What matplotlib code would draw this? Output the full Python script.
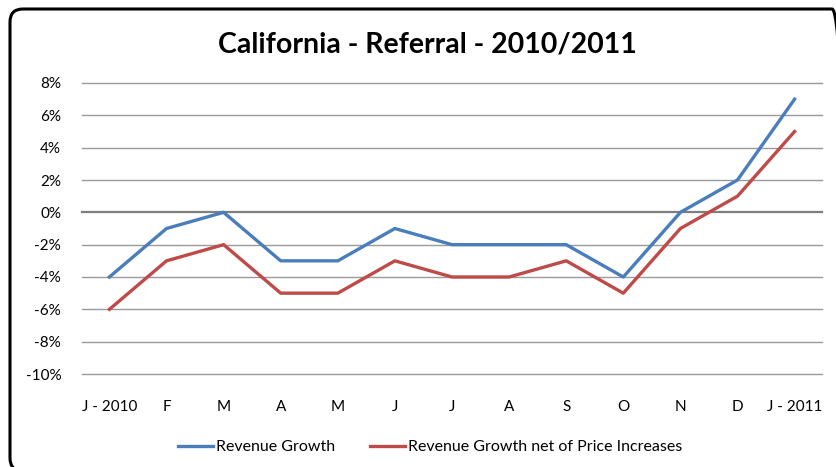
import matplotlib
matplotlib.use("Agg")
import matplotlib.pyplot as plt
from matplotlib.patches import FancyBboxPatch
from matplotlib.transforms import IdentityTransform
from matplotlib.ticker import FuncFormatter

plt.rcParams['font.family'] = ['Lato', 'DejaVu Sans']

months = ["J - 2010", "F", "M", "A", "M", "J", "J", "A", "S", "O", "N", "D", "J - 2011"]
revenue_growth = [-4, -1, 0, -3, -3, -1, -2, -2, -2, -4, 0, 2, 7]
revenue_net = [-6, -3, -2, -5, -5, -3, -4, -4, -3, -5, -1, 1, 5]
y_ticks = [-10, -8, -6, -4, -2, 0, 2, 4, 6, 8]

W, H = 836, 467
fig = plt.figure(figsize=(W / 100, H / 100), dpi=100)

# rounded chart border (pixel coordinates, origin bottom-left)
border = FancyBboxPatch((10, -4), 835, H - 9 + 4,
                        boxstyle="round,pad=0,rounding_size=13",
                        transform=IdentityTransform(), fill=False,
                        edgecolor="black", linewidth=2.2, clip_on=False)
fig.patches.append(border)

ax = fig.add_axes([82 / W, 1 - 374 / H, (822 - 82) / W, (374 - 83) / H])
x = list(range(len(months)))
l1, = ax.plot(x, revenue_growth, color="#4A7EBB", linewidth=2.4, label="Revenue Growth", zorder=3)
l2, = ax.plot(x, revenue_net, color="#BE4B48", linewidth=2.4,
              label="Revenue Growth net of Price Increases", zorder=3)

ax.set_xlim(-0.48, 12.48)
ax.set_ylim(-10, 8)
ax.set_yticks(y_ticks)
ax.yaxis.set_major_formatter(FuncFormatter(lambda v, p: f"{int(v)}%"))
ax.set_xticks(x)
ax.set_xticklabels(months)
for yv in y_ticks:
    ax.axhline(yv, color="#7f7f7f" if yv == 0 else "#9a9a9a",
               linewidth=1.6 if yv == 0 else 1.0, zorder=1, clip_on=False)
for s in ax.spines.values():
    s.set_visible(False)
ax.tick_params(axis="both", length=0, labelsize=11, colors="black")
ax.tick_params(axis="y", pad=15)
ax.tick_params(axis="x", pad=19)

fig.text(427 / W, 1 - 44 / H, "California - Referral - 2010/2011",
         ha="center", va="center", fontsize=20.5, fontweight="bold")

fig.legend(handles=[l1, l2], loc="center", bbox_to_anchor=(430 / W, 1 - 447 / H),
           ncol=2, frameon=False, fontsize=11.5, handlelength=2.2,
           handletextpad=0.15, columnspacing=2.2)

fig.savefig("out.png", dpi=100)
